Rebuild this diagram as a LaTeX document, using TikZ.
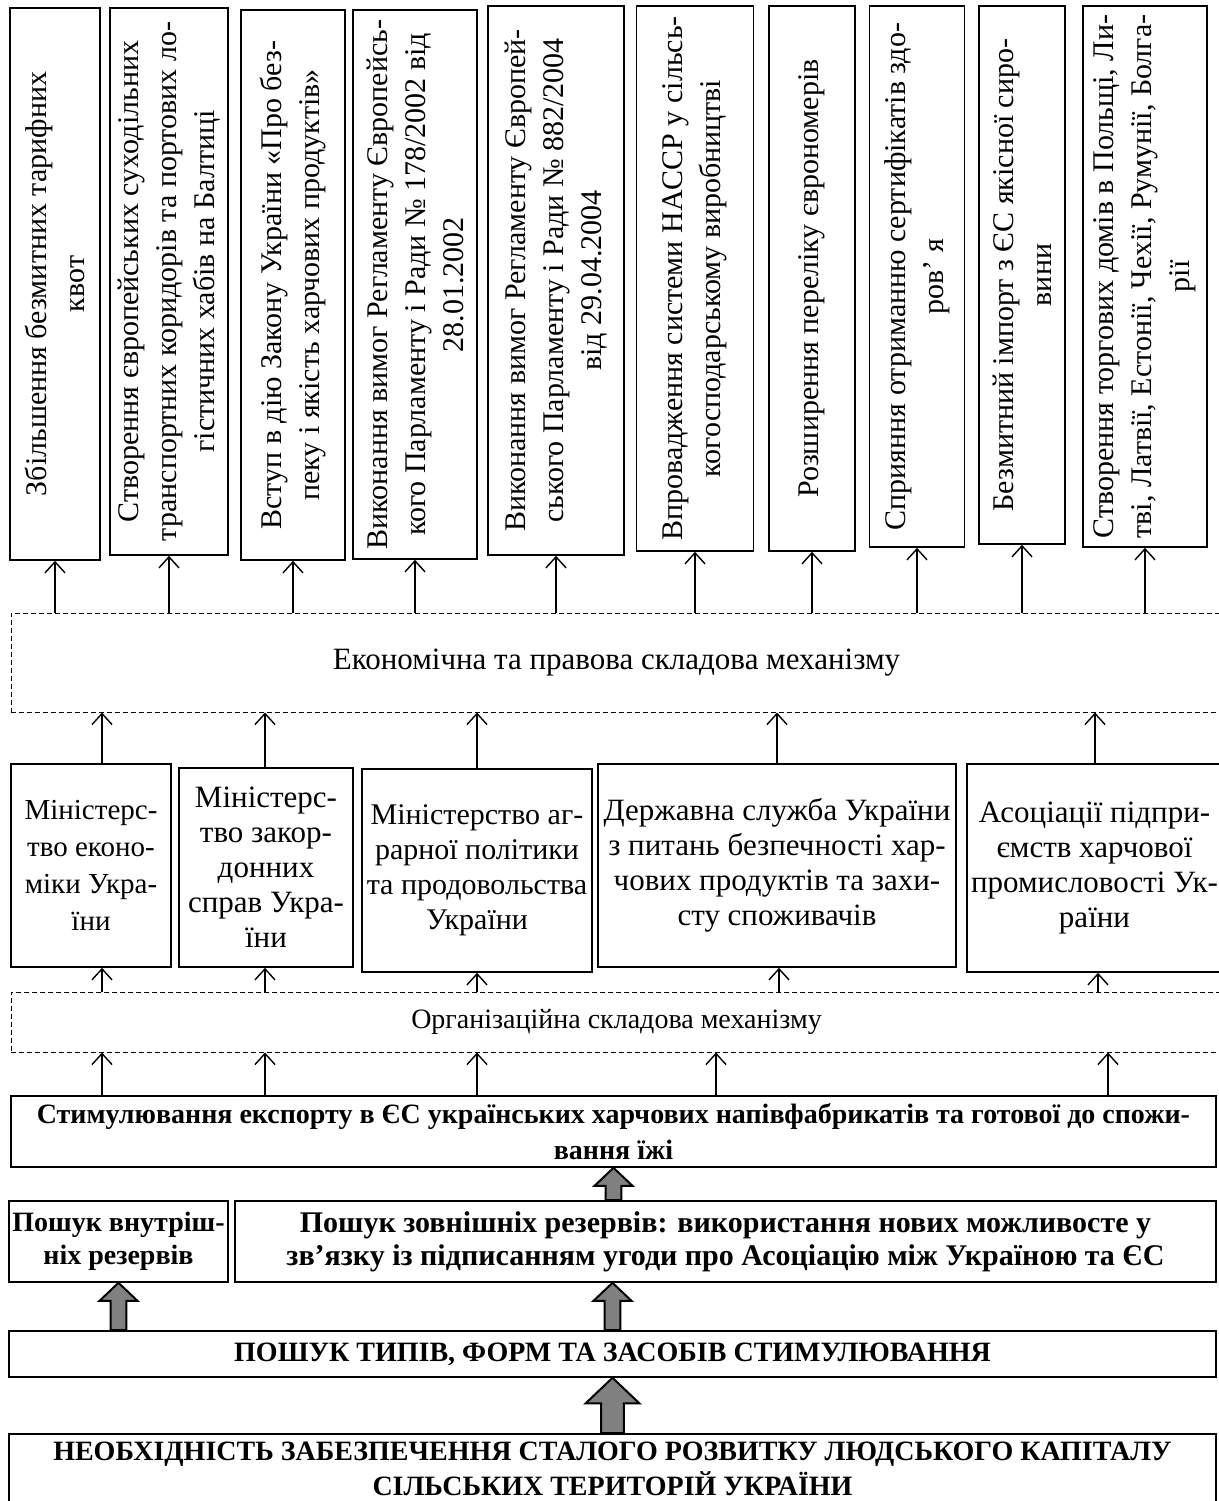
\documentclass[tikz,border=0pt]{standalone}
\usepackage{fontspec}
\setmainfont{Liberation Serif}
\usetikzlibrary{arrows.meta, calc}

\begin{document}
\begin{tikzpicture}[x=1pt, y=-1pt, >={Straight Barb[length=11pt,width=20pt]},
  box/.style={draw, line width=1.6pt, inner sep=2pt, align=center},
  tb/.style={box, rotate=90, font=\fontsize{30}{38}\selectfont},
  mb/.style={box, font=\fontsize{31}{35}\selectfont},
  db/.style={draw, line width=1pt, dash pattern=on 5pt off 3pt, align=center},
  bb/.style={box, font=\bfseries\fontsize{28}{36}\selectfont},
  ar/.style={->, line width=1.4pt},
  fatarrow/.style={draw, fill=gray, line width=2pt},
  fatup/.style={to path={let \p1=(\tikztostart), \p2=(\tikztotarget) in
    (\x1-0.42*#1pt,\y1) -- (\x1-0.42*#1pt,\y2-0.95*#1pt) -- (\x1-#1pt,\y2-0.95*#1pt) -- (\x1,\y2)
    -- (\x1+#1pt,\y2-0.95*#1pt) -- (\x1+0.42*#1pt,\y2-0.95*#1pt) -- (\x1+0.42*#1pt,\y1) -- cycle}}]
  \useasboundingbox (0,0) rectangle (1218,1501);

  \node[tb, minimum width=552, minimum height=90]  (t1)  at (55,284)     {Збільшення безмитних тарифних\\квот};
  \node[tb, minimum width=547, minimum height=118] (t2)  at (169,281.5)  {Створення європейських суходільних\\транспортних  коридорів та портових ло-\\гістичних хабів на Балтиці};
  \node[tb, minimum width=550, minimum height=104] (t3)  at (293,285)    {Вступ в дію Закону України «Про без-\\пеку і якість харчових продуктів»};
  \node[tb, minimum width=549, minimum height=124] (t4)  at (415,284.5)  {Виконання вимог Регламенту Європейсь-\\кого Парламенту і Ради № 178/2002 від\\28.01.2002};
  \node[tb, minimum width=549, minimum height=136] (t5)  at (556,280.5)  {Виконання вимог Регламенту  Європей-\\ського Парламенту і Ради  № 882/2004\\від 29.04.2004};
  \node[tb, minimum width=545, minimum height=117] (t6)  at (695,278.5)  {Впровадження системи HACCP у сільсь-\\когосподарському виробництві};
  \node[tb, minimum width=545, minimum height=86]  (t7)  at (812,278.5)  {Розширення переліку єврономерів};
  \node[tb, minimum width=541, minimum height=95]  (t8)  at (917,276.5)  {Сприяння отриманню сертифікатів здо-\\ров’ я};
  \node[tb, minimum width=538, minimum height=86]  (t9)  at (1022,275)   {Безмитний імпорт з ЄС якісної сиро-\\вини};
  \node[tb, minimum width=541, minimum height=124] (t10) at (1145,276.5) {Створення торгових домів в Польщі, Ли-\\тві, Латвії, Естонії, Чехії, Румунії, Болга-\\рії};

  \node[db, minimum width=1211, minimum height=99, font=\fontsize{31}{35}\selectfont] (eco) at (616.5,662.5) {Економічна та правова складова механізму};

  \node[mb, minimum width=160, minimum height=203, font=\fontsize{29}{37}\selectfont] (m1) at (91,865.5) {Міністерс-\\тво еконо-\\міки Укра-\\їни};
  \node[mb, minimum width=174, minimum height=199] (m2) at (266,867.5) {Міністерс-\\тво закор-\\донних\\справ Укра-\\їни};
  \node[mb, minimum width=230, minimum height=203, font=\fontsize{30}{35}\selectfont] (m3) at (477,870.5) {Міністерство аг-\\рарної політики\\та продовольства\\України};
  \node[mb, minimum width=358, minimum height=203] (m4) at (777,865.5) {Державна служба України\\з питань безпечності хар-\\чових продуктів та захи-\\сту споживачів};
  \node[mb, minimum width=255, minimum height=208] (m5) at (1094.5,868) {Асоціації підпри-\\ємств харчової\\промисловості Ук-\\раїни};

  \node[db, minimum width=1211, minimum height=60, font=\fontsize{28}{30}\selectfont] (org) at (616.5,1022) {Організаційна складова механізму};

  \node[bb, minimum width=1205, minimum height=71] (stim) at (613.5,1131.5) {Стимулювання експорту в ЄС українських харчових напівфабрикатів  та готової до спожи-\\вання їжі};
  \node[bb, minimum width=219, minimum height=81, font=\bfseries\fontsize{28}{33}\selectfont] (vn) at (118.5,1241.5) {Пошук внутріш-\\ніх резервів};
  \node[bb, minimum width=981, minimum height=81, font=\bfseries\fontsize{30}{33}\selectfont] (zv) at (725.5,1241.5) {Пошук зовнішніх резервів: використання нових можливосте у\\зв’язку із підписанням угоди про Асоціацію між Україною та ЄС};
  \node[bb, minimum width=1207, minimum height=46] (ptt) at (612.5,1354) {ПОШУК ТИПІВ, ФОРМ ТА ЗАСОБІВ СТИМУЛЮВАННЯ};
  \node[bb, minimum width=1207, minimum height=69, font=\bfseries\fontsize{28}{35}\selectfont] (neo) at (612.5,1468.5) {НЕОБХІДНІСТЬ ЗАБЕЗПЕЧЕННЯ СТАЛОГО РОЗВИТКУ ЛЮДСЬКОГО КАПІТАЛУ\\СІЛЬСЬКИХ ТЕРИТОРІЙ УКРАЇНИ};

  \foreach \i in {1,...,10}
    \draw[ar] (t\i.west |- eco.north) -- (t\i.west);
  \foreach \m/\x in {m1/102, m2/265, m3/477, m4/777, m5/1095}
    \draw[ar] (\m.north -| \x,0) -- (eco.south -| \x,0);
  \foreach \m/\x in {m1/102, m2/265, m3/477, m4/779, m5/1098}
    \draw[ar] (org.north -| \x,0) -- (\m.south -| \x,0);
  \foreach \x in {102,265,477,716,1108}
    \draw[ar] (stim.north -| \x,0) -- (org.south -| \x,0);

  \draw[fatarrow] (stim.south |- zv.north) to[fatup=19] (stim.south);
  \draw[fatarrow] (vn.south |- ptt.north) to[fatup=19] (vn.south);
  \draw[fatarrow] (ptt.north) to[fatup=19] (ptt.north |- zv.south);
  \draw[fatarrow] (neo.north) to[fatup=27] (ptt.south);
\end{tikzpicture}
\end{document}
